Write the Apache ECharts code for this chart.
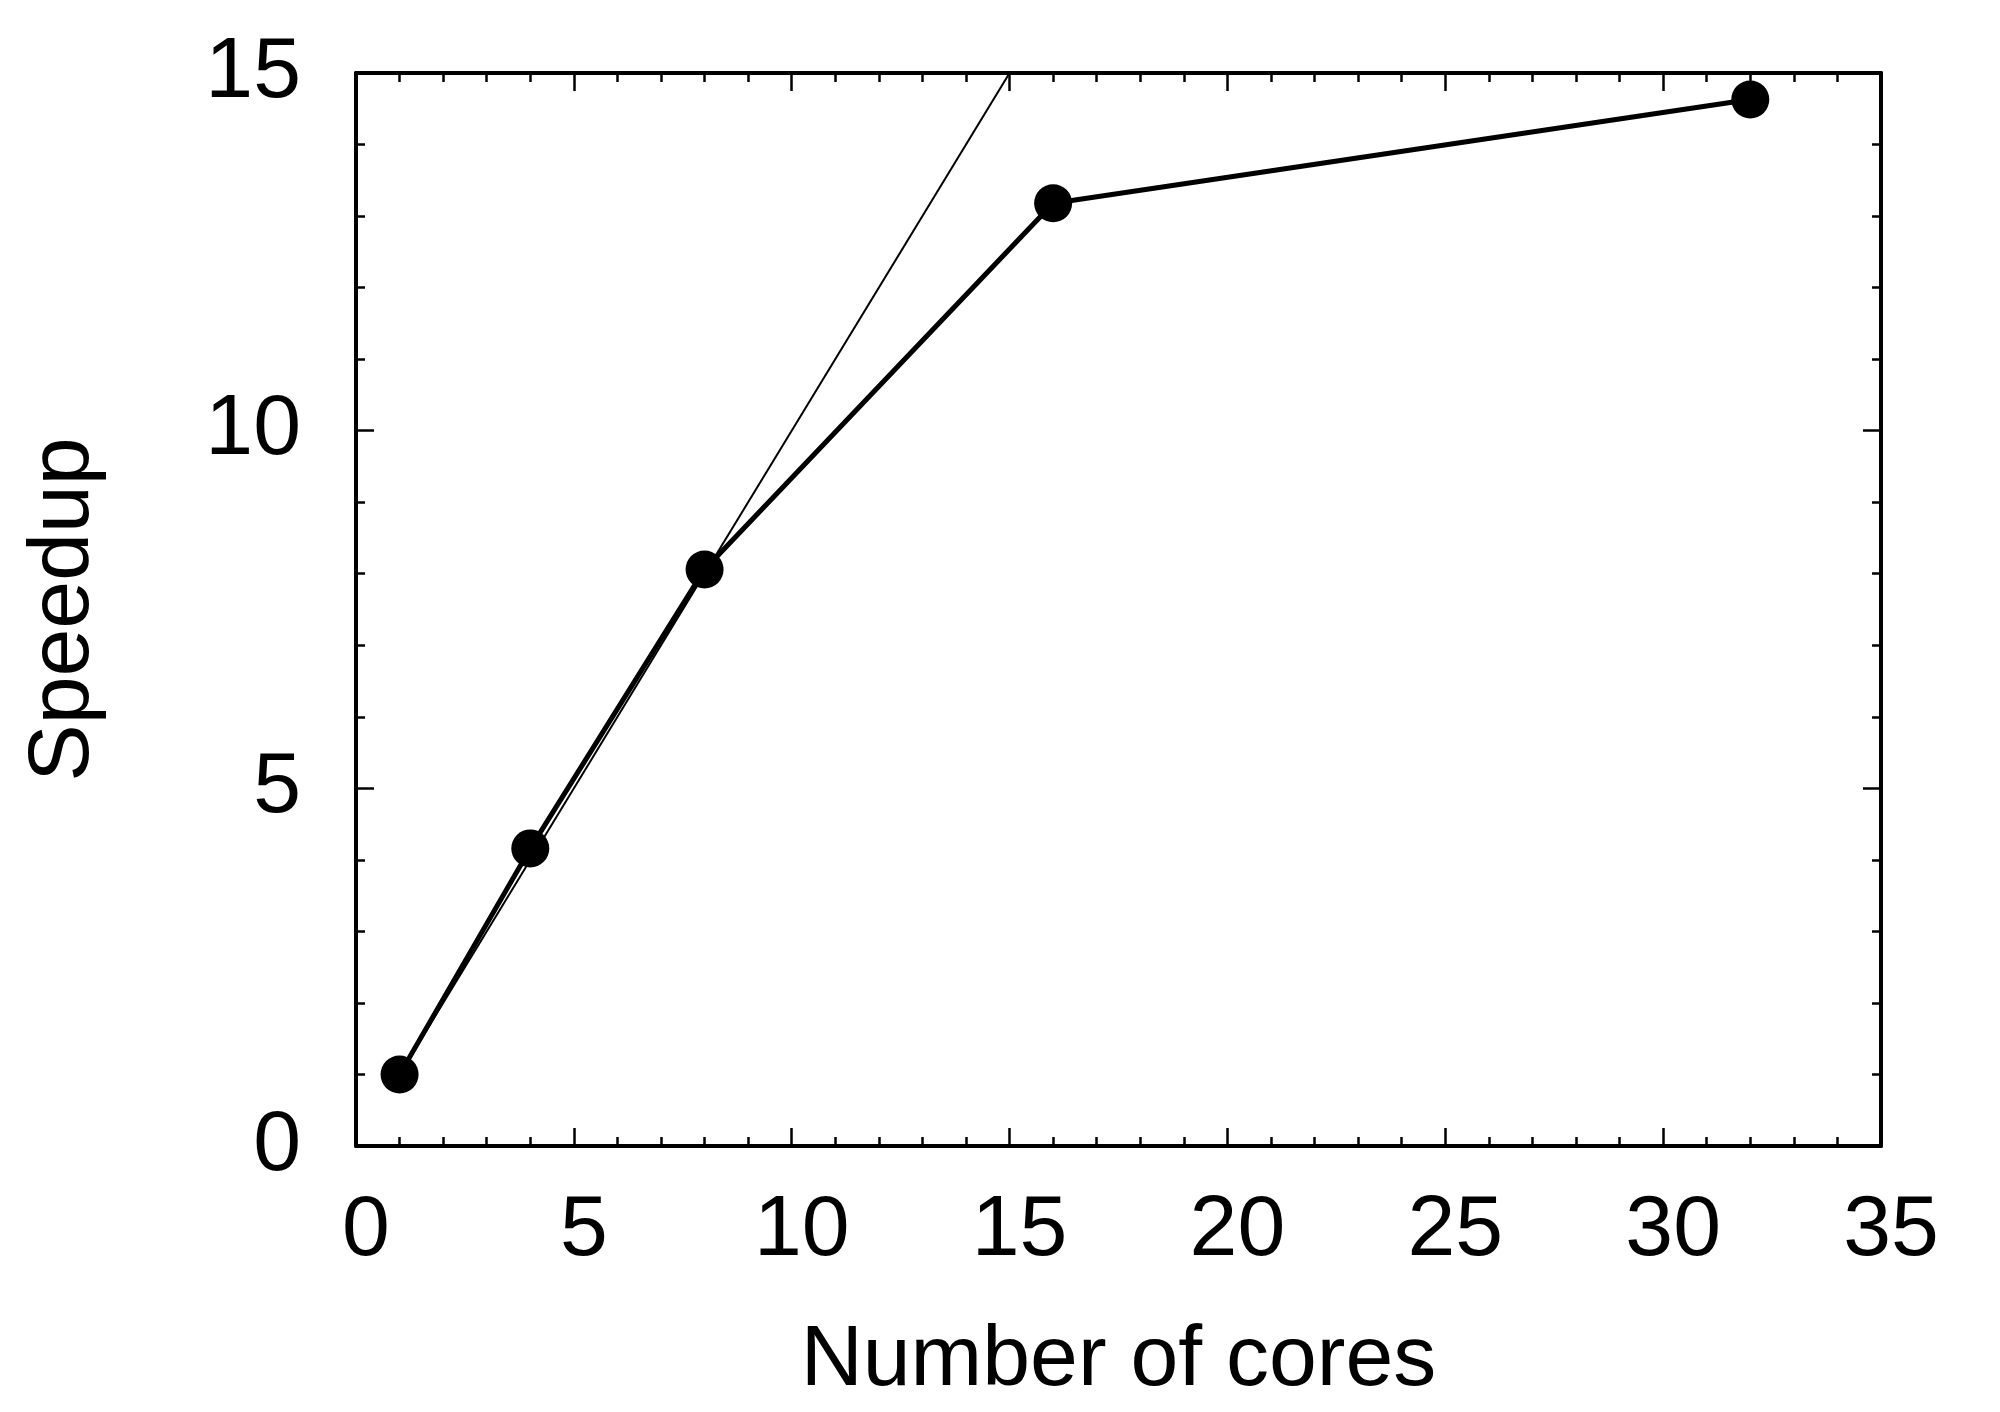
<!DOCTYPE html>
<html>
<head>
<meta charset="utf-8" />
<title>Speedup</title>
<script src="https://cdn.jsdelivr.net/npm/echarts@6/dist/echarts.min.js"></script>
<style>
  html, body { margin: 0; padding: 0; background: #fff; }
  #main { width: 2000px; height: 1412px; }
</style>
</head>
<body>
<div id="main"></div>
<script type="text/javascript">
// measured speedup
var cores = [1, 4, 8, 16, 32];
var speedup = [1.0, 4.16, 8.06, 13.18, 14.63];
// ideal linear speedup
var idealX = [1, 35];
var idealY = [1, 35];

var xTicks = [0, 5, 10, 15, 20, 25, 30, 35];
var yTicks = [0, 5, 10, 15];

var font = 'Liberation Sans, Arial, sans-serif';

function pairs(xs, ys) {
    return xs.map(function (x, i) { return [x, ys[i]]; });
}

function axisBase(show) {
    return {
        type: 'value',
        axisLine: { show: true, onZero: false, lineStyle: { color: '#000', width: 4 } },
        axisTick: { show: true, inside: true, length: 18, lineStyle: { color: '#000', width: 2.5 } },
        minorTick: { show: true, splitNumber: 5, length: 9, lineStyle: { color: '#000', width: 2.5 } },
        splitLine: { show: false },
        axisLabel: { show: show }
    };
}

var xBottom = axisBase(true);
xBottom.position = 'bottom';
xBottom.min = xTicks[0];
xBottom.max = xTicks[xTicks.length - 1];
xBottom.interval = 5;
xBottom.name = 'Number of cores';
xBottom.nameLocation = 'middle';
xBottom.nameGap = 172;
xBottom.nameTextStyle = { fontFamily: font, fontSize: 86, color: '#000' };
xBottom.axisLabel = { show: true, margin: 42, fontFamily: font, fontSize: 86, color: '#000', padding: [0, 0, 0, 20] };

var xTop = axisBase(false);
xTop.position = 'top';
xTop.min = xBottom.min;
xTop.max = xBottom.max;
xTop.interval = 5;

var yLeft = axisBase(true);
yLeft.position = 'left';
yLeft.min = yTicks[0];
yLeft.max = yTicks[yTicks.length - 1];
yLeft.interval = 5;
yLeft.name = 'Speedup';
yLeft.nameLocation = 'middle';
yLeft.nameGap = 249;
yLeft.nameTextStyle = { fontFamily: font, fontSize: 86, color: '#000' };
yLeft.axisLabel = { show: true, margin: 55, fontFamily: font, fontSize: 86, color: '#000' };

var yRight = axisBase(false);
yRight.position = 'right';
yRight.min = yLeft.min;
yRight.max = yLeft.max;
yRight.interval = 5;

var myChart = echarts.init(document.getElementById('main'), null, { renderer: 'canvas' });
var option = {
    backgroundColor: '#fff',
    animation: false,
    grid: { left: 356, right: 119, top: 73, bottom: 266, containLabel: false },
    xAxis: [xBottom, xTop],
    yAxis: [yLeft, yRight],
    series: [
        {
            name: 'ideal',
            type: 'line',
            xAxisIndex: 0,
            yAxisIndex: 0,
            data: pairs(idealX, idealY),
            symbol: 'none',
            clip: true,
            lineStyle: { color: '#000', width: 2 },
            z: 2
        },
        {
            name: 'speedup',
            type: 'line',
            xAxisIndex: 0,
            yAxisIndex: 0,
            data: pairs(cores, speedup),
            symbol: 'circle',
            symbolSize: 38,
            itemStyle: { color: '#000' },
            lineStyle: { color: '#000', width: 5 },
            z: 3
        }
    ]
};
myChart.setOption(option);
</script>
</body>
</html>
